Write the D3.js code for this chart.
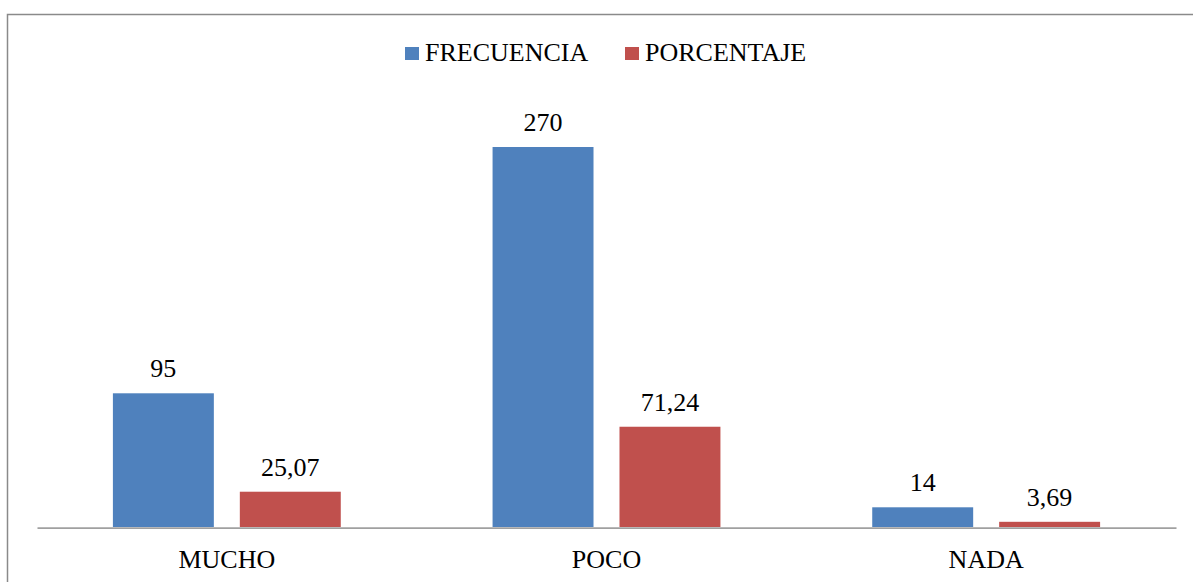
<!DOCTYPE html>
<html>
<head>
<meta charset="utf-8">
<script src="https://cdn.jsdelivr.net/npm/d3@7"></script>
<style>
html,body{margin:0;padding:0;background:#fff;}
svg{display:block;}
</style>
</head>
<body>
<svg id="chart" width="1193" height="582"></svg>
<script>
const categories = ["MUCHO", "POCO", "NADA"];
const seriesNames = ["FRECUENCIA", "PORCENTAJE"];
const frecuencia = [95, 270, 14];
const porcentaje = [25.07, 71.24, 3.69];
const valueLabels = { FRECUENCIA: ["95", "270", "14"], PORCENTAJE: ["25,07", "71,24", "3,69"] };
const colors = ["#4F81BD", "#C0504D"];

const svg = d3.select("#chart");
const FONT = "'Liberation Serif', serif";

// outer border (extends beyond right/bottom)
svg.append("rect").attr("x", 7.5).attr("y", 14.5).attr("width", 1250).attr("height", 650)
  .attr("fill", "none").attr("stroke", "#8a8a8a").attr("stroke-width", 1.5);

const plotLeft = 37, plotRight = 1176, baseY = 527;
const yMax = 300;
const y = d3.scaleLinear().domain([0, yMax]).range([baseY, baseY - yMax * 1.4074]);
const x0 = d3.scaleBand().domain(categories).range([plotLeft, plotRight]).padding(0);
const x1 = d3.scaleBand().domain(seriesNames).range([0, x0.bandwidth()])
  .paddingInner(0.2047).paddingOuter(0.598);

const data = categories.map((c, i) => ({
  cat: c,
  vals: [
    { s: "FRECUENCIA", v: frecuencia[i], lbl: valueLabels.FRECUENCIA[i] },
    { s: "PORCENTAJE", v: porcentaje[i], lbl: valueLabels.PORCENTAJE[i] }
  ]
}));
const color = d3.scaleOrdinal().domain(seriesNames).range(colors);

const g = svg.selectAll("g.cat").data(data).enter().append("g")
  .attr("class", "cat").attr("transform", d => `translate(${x0(d.cat)},0)`);

g.selectAll("rect").data(d => d.vals).enter().append("rect")
  .attr("x", d => x1(d.s)).attr("width", x1.bandwidth())
  .attr("y", d => y(d.v)).attr("height", d => y(0) - y(d.v))
  .attr("fill", d => color(d.s));

g.selectAll("text.val").data(d => d.vals).enter().append("text")
  .attr("class", "val")
  .attr("x", d => x1(d.s) + x1.bandwidth() / 2)
  .attr("y", d => y(d.v) - 16)
  .attr("text-anchor", "middle")
  .style("font-family", FONT).style("font-size", "26px").style("fill", "#000")
  .text(d => d.lbl);

// x axis line
const xAxis = d3.axisBottom(x0).tickSize(0).tickPadding(0);
const ax = svg.append("g").attr("transform", `translate(0,${baseY + 0.7})`).call(xAxis);
ax.attr("font-family", null).attr("font-size", null);
ax.select(".domain").attr("stroke", "#a0a0a0").attr("stroke-width", 1.8);
ax.selectAll(".tick text").attr("dy", 0).attr("y", 40)
  .style("font-family", FONT).style("font-size", "26px").style("fill", "#000");

// legend
const legendX = [405, 625];
const lg = svg.selectAll("g.leg").data(seriesNames).enter().append("g")
  .attr("class", "leg").attr("transform", (d, i) => `translate(${legendX[i]},0)`);
lg.append("rect").attr("x", 0).attr("y", 47).attr("width", 14).attr("height", 13)
  .attr("fill", d => color(d));
lg.append("text").attr("x", 20).attr("y", 61)
  .style("font-family", FONT).style("font-size", "26px").style("fill", "#000")
  .text(d => d);
</script>
</body>
</html>
